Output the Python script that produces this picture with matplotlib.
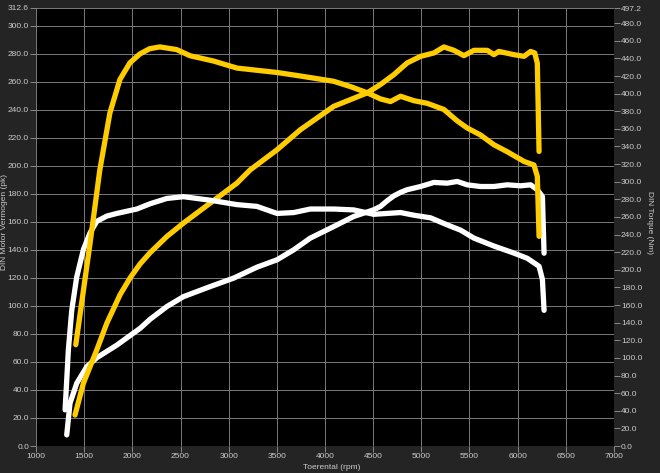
import matplotlib
matplotlib.use("Agg")
import matplotlib.pyplot as plt
import numpy as np

plt.rcParams['font.family'] = ['Liberation Sans', 'DejaVu Sans']

# ---- data ----
tuned_power_rpm = [1405, 1492, 1631, 1735, 1873, 1977, 2081, 2185, 2358, 2531, 2809, 3086, 3224,
                   3502, 3744, 4090, 4437, 4576, 4714, 4853, 4992, 5130, 5234, 5338, 5442, 5546,
                   5684, 5753, 5805, 5961, 6066, 6135, 6177, 6204, 6222]
tuned_power_pk = [22.1, 44.8, 68.6, 87.6, 108, 120, 130, 138, 149.5, 159.1, 173.4, 187.6, 197.1,
                  211.4, 225.7, 242.4, 252, 258, 265, 273.4, 278.1, 280.5, 284.8, 282.4, 278.6, 282.4,
                  282.4, 279.3, 281.6, 279.3, 278.1, 281.6, 280.5, 273.3, 210.2]

tuned_torque_rpm = [1413, 1561, 1662, 1767, 1871, 1975, 2078, 2180, 2286, 2460, 2599, 2843, 3086, 3502,
                    3744, 4090, 4264, 4437, 4576, 4680, 4784, 4922, 5061, 5234, 5373, 5476, 5615,
                    5753, 5892, 6066, 6169, 6204, 6222]
tuned_torque_nm = [115, 230, 313, 378, 416, 435, 445, 451, 453, 450, 443, 437, 429, 424,
                   420, 414, 408, 401, 394, 391, 397, 392, 389, 382, 369, 361, 353,
                   342, 334, 323, 319, 306, 238]

stock_power_rpm = [1319, 1353, 1423, 1527, 1631, 1839, 2081, 2185, 2358, 2531, 2809, 3051, 3293,
                   3502, 3675, 3848, 4090, 4298, 4506, 4576, 4645, 4714, 4784, 4853, 4992, 5130, 5269, 5373,
                   5476, 5615, 5753, 5892, 6031, 6135, 6204, 6257, 6274]
stock_power_pk = [7.9, 30.5, 44.8, 56.6, 63, 72, 84, 90.5, 99.5, 106.6, 113.8, 119.8, 127.6,
                  132.9, 140, 148.4, 156.6, 163.8, 168.6, 171, 175, 178.5, 181, 182.9, 185.2, 188.1, 187.6, 188.8,
                  186.4, 185.2, 185.2, 186.4, 185.7, 186.4, 182.9, 178, 137.6]

stock_torque_rpm = [1302, 1336, 1371, 1423, 1492, 1561, 1631, 1735, 1839, 2047, 2185, 2358, 2531,
                    2809, 3086, 3293, 3502, 3675, 3848, 4090, 4298, 4506, 4784, 4922, 5096, 5269,
                    5408, 5546, 5753, 5961, 6101, 6222, 6257, 6274]
stock_torque_nm = [41, 109, 154, 192, 223, 242, 255, 261, 264, 269, 275, 281, 283,
                   279, 274, 272, 264, 265, 269, 269, 268, 263, 265, 262, 259, 251,
                   245, 236, 227, 219, 213, 204, 189, 154]

x_ticks = list(range(1000, 7001, 500))
left_ticks = [0, 20, 40, 60, 80, 100, 120, 140, 160, 180, 200, 220, 240, 260, 280, 300, 312.6]
right_ticks = list(range(0, 481, 20)) + [497.2]

# ---- style ----
BG = "#242424"
TXT = "#cccccc"
GRID = "#7a7a7a"
YEL = "#ffcc00"
WHT = "#ffffff"
FS = 6.0

fig = plt.figure(figsize=(6.6, 4.73), dpi=100, facecolor=BG)
ax = fig.add_axes([36 / 660, 27 / 473, 578 / 660, 438 / 473])
ax.set_facecolor("black")
ax2 = ax.twinx()

ax.set_xlim(1000, 7000)
ax.set_ylim(0, 312.6)
ax2.set_ylim(0, 497.2)

lw = 3.8
kw = dict(lw=lw, solid_capstyle="round", solid_joinstyle="round")
ax.plot(stock_power_rpm, stock_power_pk, color=WHT, zorder=3, **kw)
ax2.plot(stock_torque_rpm, stock_torque_nm, color=WHT, zorder=3, **kw)
ax.plot(tuned_power_rpm, tuned_power_pk, color=YEL, zorder=4, **kw)
ax2.plot(tuned_torque_rpm, tuned_torque_nm, color=YEL, zorder=4, **kw)

ax.set_xticks(x_ticks)
ax.set_xticklabels([str(v) for v in x_ticks])
ax.set_yticks(left_ticks)
ax.set_yticklabels([f"{v:.1f}" for v in left_ticks])
ax2.set_yticks(right_ticks)
ax2.set_yticklabels([f"{v:.1f}" for v in right_ticks])

ax.grid(True, color=GRID, lw=0.7)
ax2.grid(False)
ax.set_axisbelow(True)

for a in (ax, ax2):
    a.tick_params(colors=TXT, labelsize=FS, length=4, width=0.7, direction="out", pad=1.0)
    a.tick_params(axis="both", color="#8a8a8a")
    for s in a.spines.values():
        s.set_visible(False)

fig.text(332 / 660, 1 - 467 / 473, "Toerental (rpm)", color=TXT, fontsize=FS,
         ha="center", va="center")
fig.text(4.5 / 660, 0.53, "DIN Motor Vermogen (pk)", color=TXT, fontsize=FS,
         ha="center", va="center", rotation=90)
fig.text(650 / 660, 0.53, "DIN Torque (Nm)", color=TXT, fontsize=FS,
         ha="center", va="center", rotation=270)

fig.savefig("out.png", dpi=100, facecolor=BG)
